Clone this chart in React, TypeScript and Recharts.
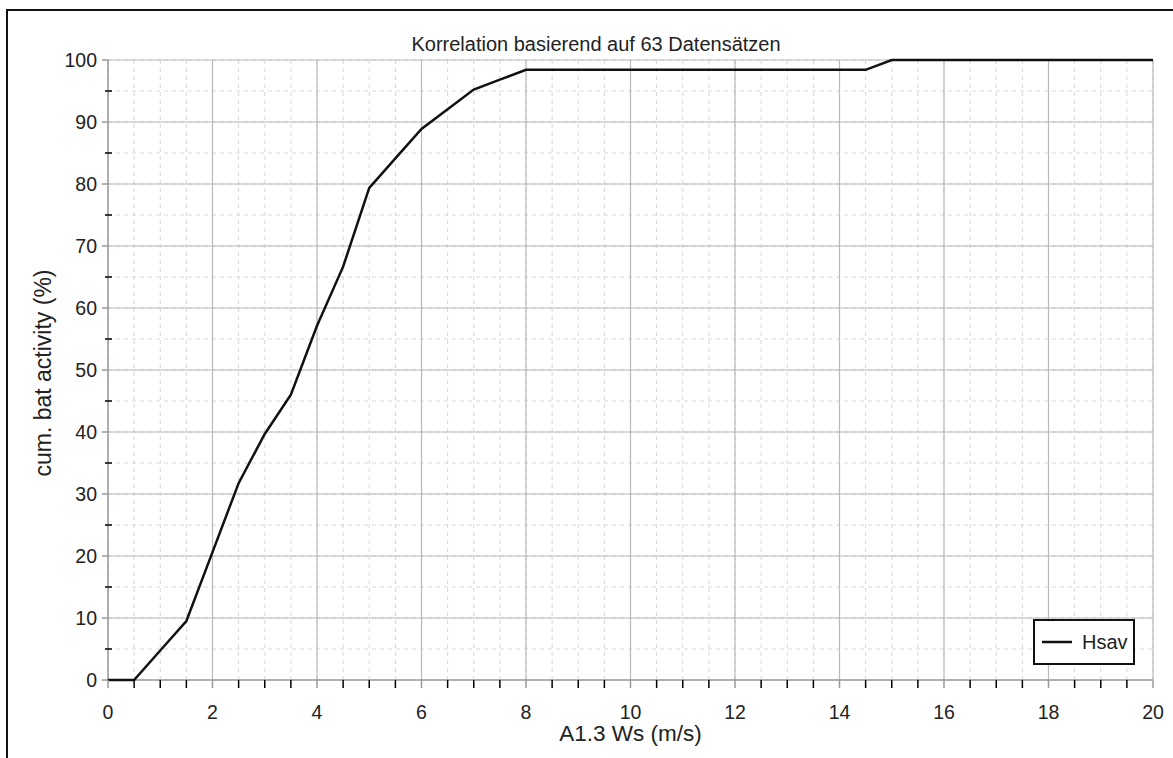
import React from 'react';
import {
  LineChart, Line, XAxis, YAxis, CartesianGrid, ReferenceLine, Legend
} from 'recharts';

// Windgeschwindigkeit (m/s) und kumulierte Aktivität (%) – 63 Datensätze
const windSpeed = [
  0, 0.5, 1, 1.5, 2, 2.5, 3, 3.5, 4, 4.5, 5, 5.5, 6, 6.5, 7, 7.5, 8, 8.5, 9, 9.5,
  10, 10.5, 11, 11.5, 12, 12.5, 13, 13.5, 14, 14.5, 15, 15.5, 16, 16.5, 17, 17.5,
  18, 18.5, 19, 19.5, 20
];
const hsav = [
  0, 0, 4.76, 9.52, 20.63, 31.75, 39.68, 46.03, 57.14, 66.67, 79.37, 84.13, 88.89,
  92.06, 95.24, 96.83, 98.41, 98.41, 98.41, 98.41, 98.41, 98.41, 98.41, 98.41,
  98.41, 98.41, 98.41, 98.41, 98.41, 98.41, 100, 100, 100, 100, 100, 100, 100,
  100, 100, 100, 100
];

const xTicks = [
  0, 0.5, 1, 1.5, 2, 2.5, 3, 3.5, 4, 4.5, 5, 5.5, 6, 6.5, 7, 7.5, 8, 8.5, 9, 9.5,
  10, 10.5, 11, 11.5, 12, 12.5, 13, 13.5, 14, 14.5, 15, 15.5, 16, 16.5, 17, 17.5,
  18, 18.5, 19, 19.5, 20
];
const xMajor = [2, 4, 6, 8, 10, 12, 14, 16, 18, 20];
const yTicks = [0, 5, 10, 15, 20, 25, 30, 35, 40, 45, 50, 55, 60, 65, 70, 75, 80, 85, 90, 95, 100];
const yMajor = [10, 20, 30, 40, 50, 60, 70, 80, 90, 100];

const data = windSpeed.map((ws, i) => ({ ws, hsav: hsav[i] }));

const FONT = '"Liberation Sans", Arial, Helvetica, sans-serif';
const MAJOR = '#b9b9b9';
const MINOR = '#d6d6d6';
const AXIS = '#999';

const XTick = (props: any) => {
  const { x, y, payload } = props;
  const v = payload.value;
  const major = v % 2 === 0;
  return (
    <g>
      <line x1={x} x2={x} y1={y} y2={y + 8} stroke={major ? AXIS : '#000'} strokeWidth={1.5} />
      {major && (
        <text x={x} y={y + 39} textAnchor="middle" fontSize={19.5} fill="#222" fontFamily={FONT}>
          {v}
        </text>
      )}
    </g>
  );
};

const YTick = (props: any) => {
  const { x, y, payload } = props;
  const v = payload.value;
  const major = v % 10 === 0;
  return (
    <g>
      {major ? (
        <line x1={x - 6} x2={x} y1={y} y2={y} stroke={AXIS} strokeWidth={1.5} />
      ) : (
        <line x1={x - 3} x2={x + 4} y1={y} y2={y} stroke="#000" strokeWidth={1.5} />
      )}
      {major && (
        <text x={x - 11} y={y} dy="0.36em" textAnchor="end" fontSize={19.5} fill="#222" fontFamily={FONT}>
          {v}
        </text>
      )}
    </g>
  );
};

const LegendBox = () => (
  <div
    style={{
      width: 102, height: 46, boxSizing: 'border-box', border: '2px solid #111',
      background: '#fff', display: 'flex', alignItems: 'center', fontFamily: FONT
    }}
  >
    <svg width={40} height={20} style={{ marginLeft: 7 }}>
      <line x1={0} x2={30} y1={10} y2={10} stroke="#111" strokeWidth={2.5} />
    </svg>
    <span style={{ fontSize: 20, color: '#222' }}>Hsav</span>
  </div>
);

const App: React.FC = () => {
  return (
    <div style={{ position: 'absolute', left: 0, top: 0, width: 1173, height: 758, overflow: 'hidden', background: '#fff' }}>
      <div
        style={{
          position: 'absolute', left: 6, top: 9, width: 1300, height: 900,
          borderTop: '2px solid #111', borderLeft: '2px solid #111'
        }}
      />
      <div
        style={{
          position: 'absolute', left: 0, width: 1192, top: 32, textAlign: 'center',
          fontFamily: FONT, fontSize: 20, color: '#222', lineHeight: '24px'
        }}
      >
        Korrelation basierend auf 63 Datensätzen
      </div>
      <div style={{ position: 'absolute', left: 0, top: 0 }}>
        <LineChart width={1173} height={758} data={data} margin={{ top: 60, right: 20, left: 0, bottom: 18 }}>
          <CartesianGrid stroke={MINOR} strokeDasharray="4 4" />
          {xMajor.map(v => (
            <ReferenceLine key={'x' + v} x={v} stroke={MAJOR} strokeWidth={1.2} />
          ))}
          {yMajor.map(v => (
            <ReferenceLine key={'y' + v} y={v} stroke={MAJOR} strokeWidth={1.2} />
          ))}
          <ReferenceLine x={0} stroke={AXIS} strokeWidth={1.5} />
          <ReferenceLine y={0} stroke={AXIS} strokeWidth={1.5} />
          <XAxis
            dataKey="ws"
            type="number"
            domain={[0, 20]}
            ticks={xTicks}
            interval={0}
            height={60}
            tickSize={0}
            tickMargin={0}
            tickLine={false}
            axisLine={false}
            tick={<XTick />}
            label={{
              content: (p: any) => {
                const vb = p.viewBox || { x: 108, y: 680, width: 1045 };
                return (
                  <text x={vb.x + vb.width / 2} y={vb.y + 61} textAnchor="middle" fontSize={22.5} fill="#222" fontFamily={FONT}>
                    A1.3 Ws (m/s)
                  </text>
                );
              }
            }}
          />
          <YAxis
            type="number"
            domain={[0, 100]}
            ticks={yTicks}
            interval={0}
            width={108}
            tickSize={0}
            tickMargin={0}
            tickLine={false}
            axisLine={false}
            tick={<YTick />}
            label={{
              content: (p: any) => {
                const vb = p.viewBox || { x: 0, y: 60, height: 620 };
                const cx = vb.x + 51;
                const cy = vb.y + vb.height / 2 + 3;
                return (
                  <text x={cx} y={cy} textAnchor="middle" fontSize={23} fill="#222" fontFamily={FONT} transform={`rotate(-90, ${cx}, ${cy})`}>
                    cum. bat activity (%)
                  </text>
                );
              }
            }}
          />
          <Legend
            layout="horizontal"
            align="center"
            verticalAlign="middle"
            wrapperStyle={{ position: 'absolute', left: 1033, top: 619, width: 102, height: 46 }}
            content={() => <LegendBox />}
          />
          <Line
            type="linear"
            dataKey="hsav"
            name="Hsav"
            stroke="#111"
            strokeWidth={2.5}
            dot={false}
            activeDot={false}
            isAnimationActive={false}
          />
        </LineChart>
      </div>
    </div>
  );
};

export default App;
